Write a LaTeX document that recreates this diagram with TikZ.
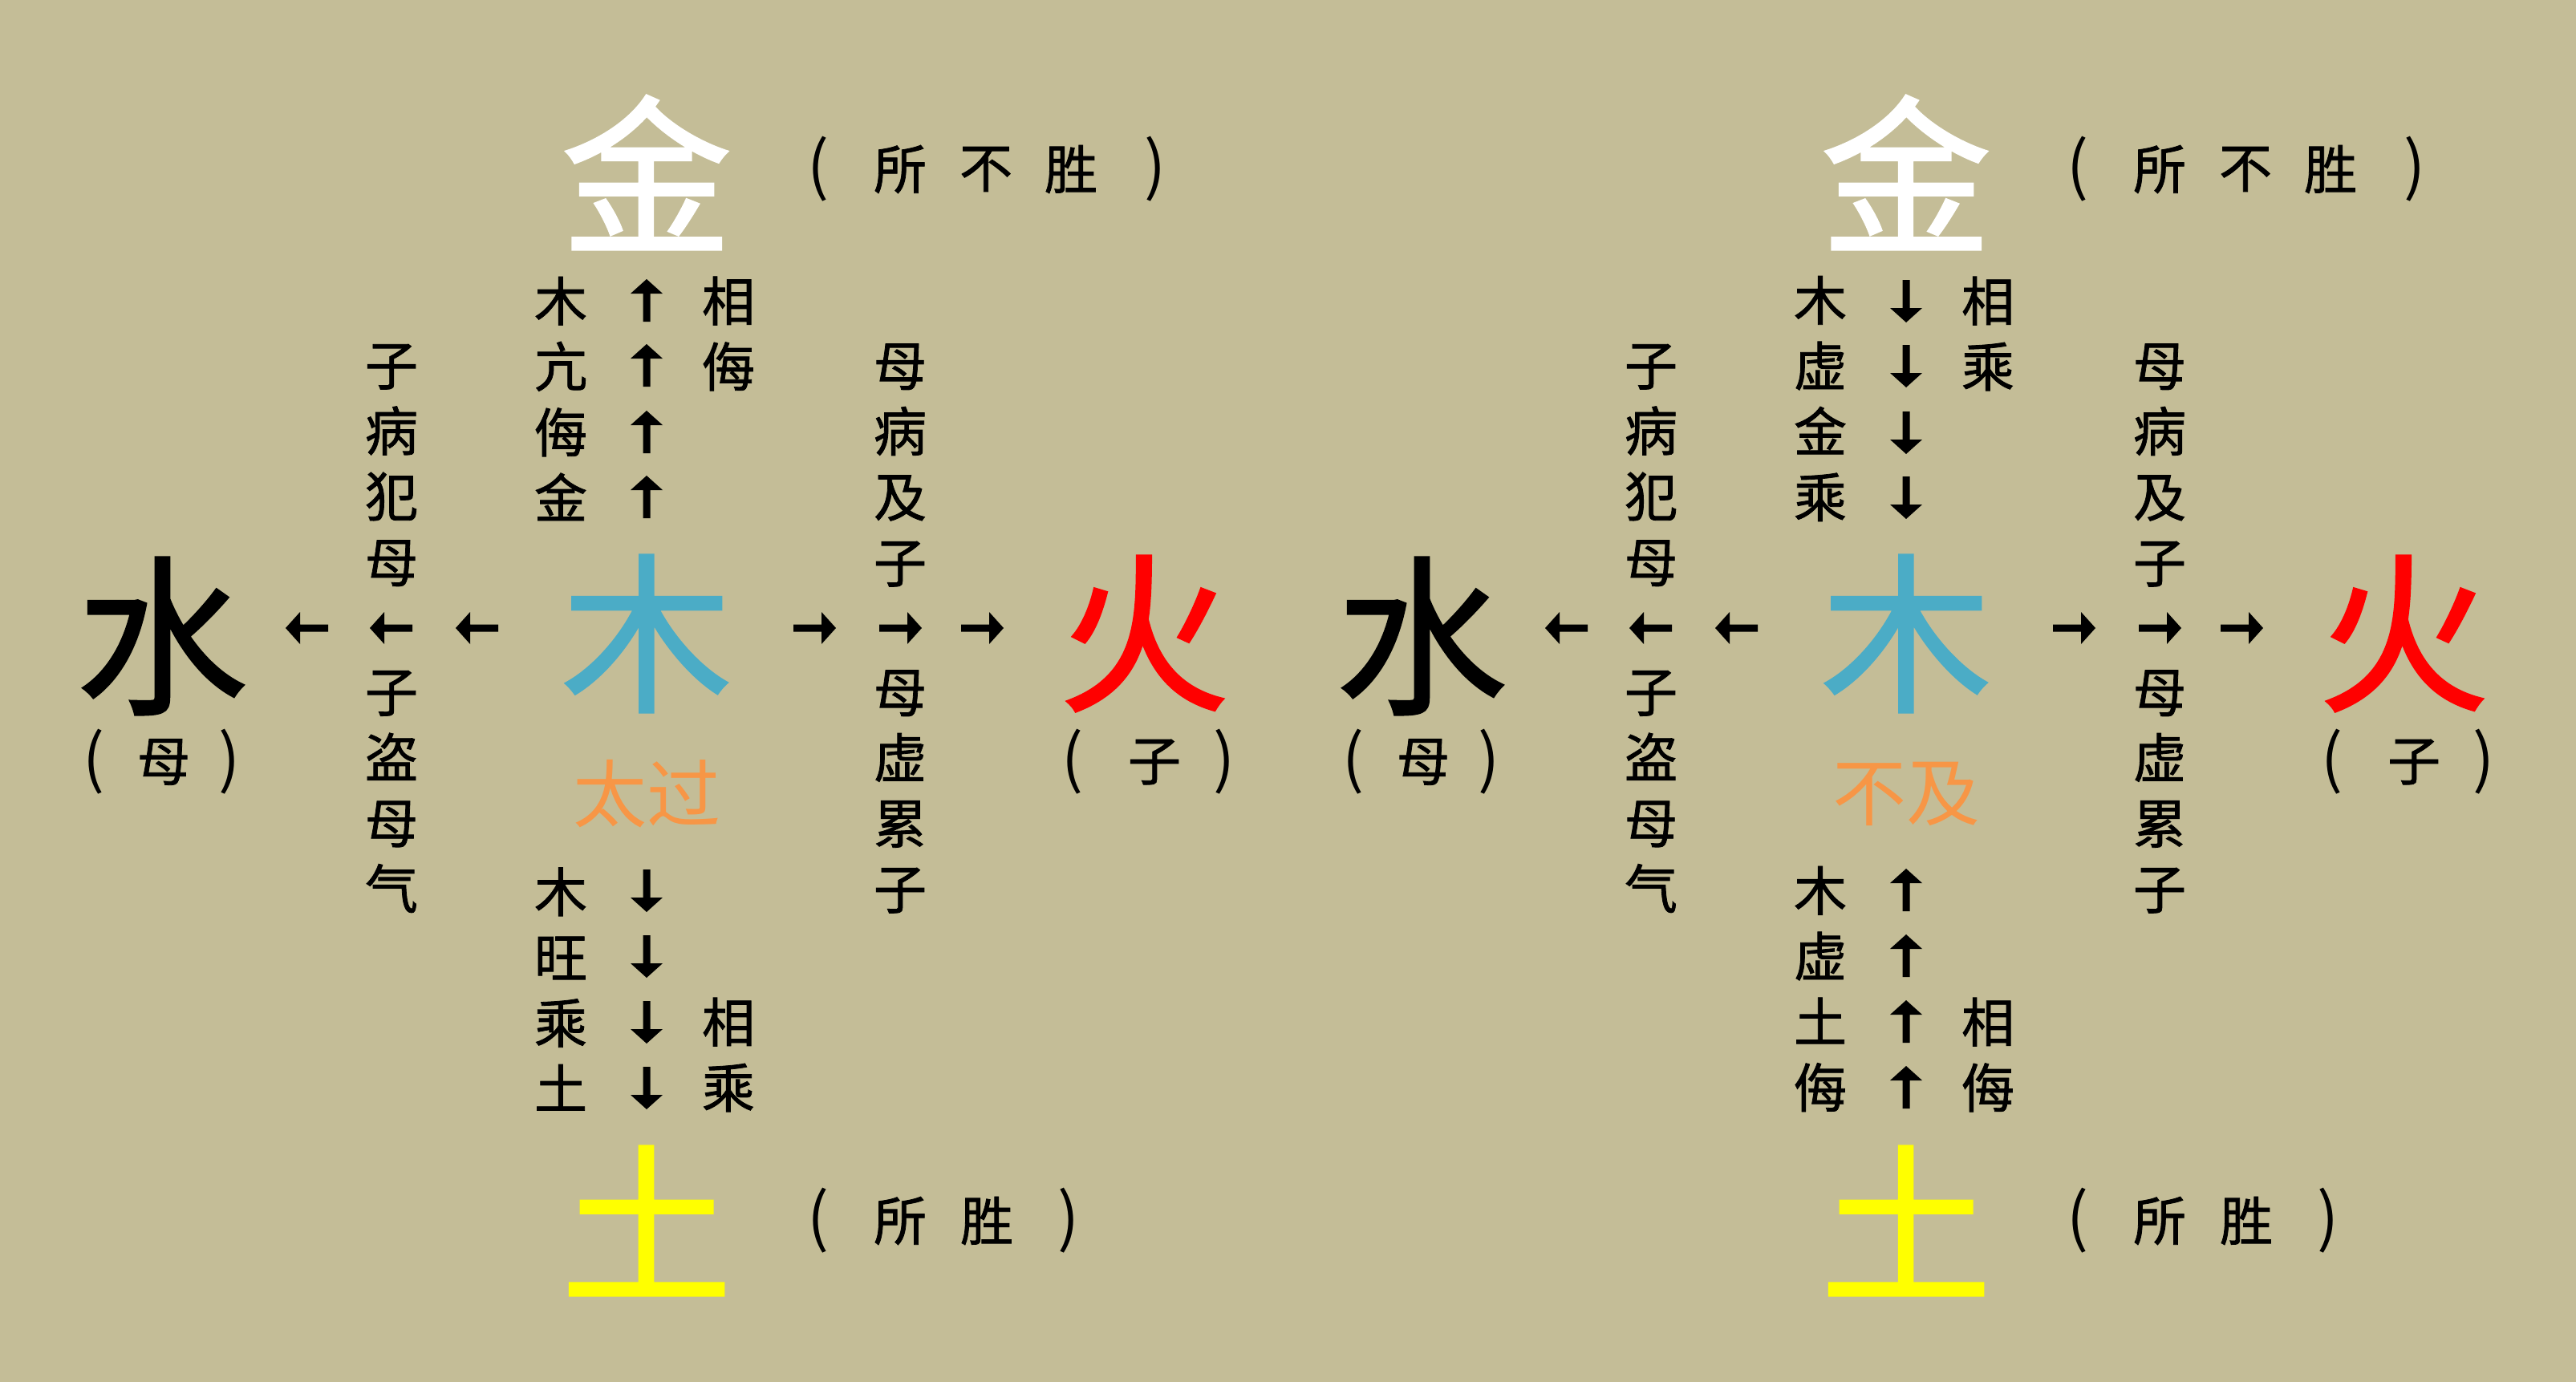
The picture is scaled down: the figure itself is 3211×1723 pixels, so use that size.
\documentclass[tikz,border=0pt]{standalone}
\usepackage{fontspec}
\newfontfamily\cjk{Noto Sans CJK SC}
\newfontfamily\cjkb[FakeBold=1.2]{Noto Sans CJK SC}
\definecolor{bgtan}{HTML}{C4BD97}
\definecolor{mublue}{HTML}{4BACC6}
\definecolor{labelorange}{HTML}{F79646}
\definecolor{tuyellow}{HTML}{FFFF00}
\newcommand\wxgroup[9]{%
  \begin{scope}[shift={(#2,0)}]
    \node[bigchar, text=white] (#1jin) at (806,215) {金};
    \node[bigchar, text=black] (#1shui) at (202,793) {水};
    \node[bigchar, text=mublue] (#1mu) at (806,790) {木};
    \node[bigchar, text=red] (#1huo) at (1426,790) {火};
    \node[bigchar, text=tuyellow] (#1tu) at (806,1522) {土};
    \node[midlabel] (#1lab) at (806,990) {#5};
    % (所不胜)
    \node[paren] (#1pa1) at (1020,211) {(};
    \node[smalltext] (#1pa2) at (1122,211) {所};
    \node[smalltext] (#1pa3) at (1229,211) {不};
    \node[smalltext] (#1pa4) at (1335,211) {胜};
    \node[paren] (#1pa5) at (1440,211) {)};
    % (所胜)
    \node[paren] (#1pb1) at (1020,1522) {(};
    \node[smalltext] (#1pb2) at (1122,1522) {所};
    \node[smalltext] (#1pb3) at (1230,1522) {胜};
    \node[paren] (#1pb4) at (1332,1522) {)};
    % (母)
    \node[paren] (#1pc1) at (117,950) {(};
    \node[smalltext] (#1pc2) at (204,950) {母};
    \node[paren] (#1pc3) at (286,950) {)};
    % (子)
    \node[paren] (#1pd1) at (1337,950) {(};
    \node[smalltext] (#1pd2) at (1439,950) {子};
    \node[paren] (#1pd3) at (1526,950) {)};
    % columns
    \node[smalltext] (#1zbfm) at (488,580) {子\\病\\犯\\母};
    \node[smalltext] (#1zdmq) at (488,987) {子\\盗\\母\\气};
    \node[smalltext] (#1mbjz) at (1122,580) {母\\病\\及\\子};
    \node[smalltext] (#1mxlz) at (1122,987) {母\\虚\\累\\子};
    \node[smalltext] (#1ul) at (699,497) {#3};
    \node[smalltext] (#1ur) at (908,416) {#4};
    \node[smalltext] (#1ll) at (699,1233) {#6};
    \node[smalltext] (#1lr) at (908,1315) {#7};
    % arrows
    \foreach \yy in {375,456,539,620} {\pic[rotate=#8] at (806,\yy) {arw};}
    \foreach \yy in {1110,1192,1274,1356} {\pic[rotate=#9] at (806,\yy) {arw};}
    \foreach \xx in {383,488,595} {\pic[rotate=180] at (\xx,783) {arw};}
    \foreach \xx in {1015,1122,1224} {\pic at (\xx,783) {arw};}
  \end{scope}}
\begin{document}
\begin{tikzpicture}[x=0.5pt,y=-0.5pt]
\tikzset{
  smalltext/.style={font=\cjkb\fontsize{33}{40.9}\selectfont, inner sep=0pt, align=center, text=black},
  paren/.style={font=\cjk\fontsize{40}{40}\selectfont, inner sep=0pt, text=black},
  bigchar/.style={font=\cjkb\fontsize{107}{107}\selectfont, inner sep=0pt},
  midlabel/.style={font=\cjk\fontsize{46}{46}\selectfont, inner sep=0pt, text=labelorange},
  pics/arw/.style={code={\fill[black] (-26,-4.5) -- (9,-4.5) -- (9,-20) -- (27,0) -- (9,20) -- (9,4.5) -- (-26,4.5) -- cycle;}}
}
\fill[bgtan] (0,0) rectangle (3211,1723);
\useasboundingbox (0,0) rectangle (3211,1723);
\wxgroup{L}{0}{木\\亢\\侮\\金}{相\\侮}{太过}{木\\旺\\乘\\土}{相\\乘}{90}{-90}
\wxgroup{R}{1570}{木\\虚\\金\\乘}{相\\乘}{不及}{木\\虚\\土\\侮}{相\\侮}{-90}{90}
\end{tikzpicture}
\end{document}
